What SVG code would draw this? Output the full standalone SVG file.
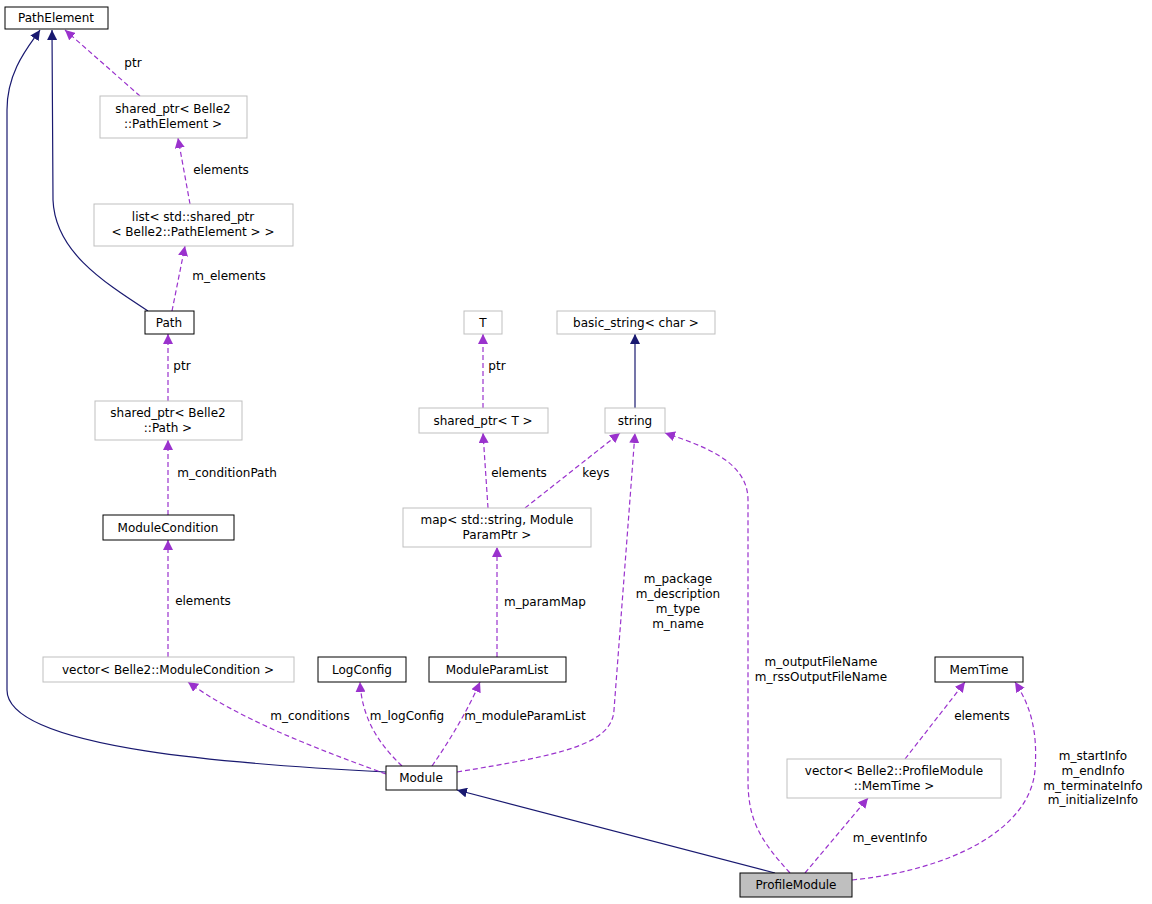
<svg xmlns="http://www.w3.org/2000/svg" width="1152" height="904" viewBox="0 0 1152 904">
<style>
text{font-family:"DejaVu Sans",sans-serif;font-size:12px;fill:#000}
.n{fill:#fff;stroke:#000;stroke-width:1}
.g{fill:#fff;stroke:#bfbfbf;stroke-width:1}
.s{fill:none;stroke:#191970;stroke-width:1.2;marker-end:url(#an)}
.d{fill:none;stroke:#9a32cd;stroke-width:1.2;stroke-dasharray:5,3;marker-end:url(#ap)}
.m{text-anchor:middle}
</style>
<defs>
<marker id="an" viewBox="0 0 10 10" refX="10" refY="5" markerWidth="10" markerHeight="10" markerUnits="userSpaceOnUse" orient="auto"><path d="M0,0L10,5L0,10z" fill="#191970"/></marker>
<marker id="ap" viewBox="0 0 10 10" refX="10" refY="5" markerWidth="10" markerHeight="10" markerUnits="userSpaceOnUse" orient="auto"><path d="M0,0L10,5L0,10z" fill="#9a32cd"/></marker>
</defs>
<rect width="1152" height="904" fill="#fff"/>
<g id="edges">
<path class="s" d="M386,772 C250,765 7,750 7,690 L7,110 C7,70 30,45 40,30"/>
<path class="s" d="M148,311 C100,280 55,250 53,200 L52,30"/>
<path class="s" d="M775,873 L457,790"/>
<path class="s" d="M635,408 L635,334"/>
<path class="d" d="M140,96 L65,30"/>
<path class="d" d="M190,204 L178,138"/>
<path class="d" d="M172,311 L185,246"/>
<path class="d" d="M168,401 L168,334"/>
<path class="d" d="M168,515 L168,440"/>
<path class="d" d="M168,657 L168,540"/>
<path class="d" d="M386,774 C320,750 240,720 188,682"/>
<path class="d" d="M402,766 C380,745 362,720 360,682"/>
<path class="d" d="M432,766 C450,740 468,710 480,682"/>
<path class="d" d="M497,657 L497,547"/>
<path class="d" d="M488,508 L483,433"/>
<path class="d" d="M525,508 L620,433"/>
<path class="d" d="M483,408 L483,334"/>
<path class="d" d="M457,772 C560,755 612,745 614,710 L635,433"/>
<path class="d" d="M790,873 C760,840 748,820 748,780 L748,500 C748,460 700,445 665,433"/>
<path class="d" d="M805,873 L868,798"/>
<path class="d" d="M905,759 L965,682"/>
<path class="d" d="M852,880 C950,870 1030,830 1035,770 C1038,730 1030,705 1015,682"/>
</g>
<g id="labels">
<text x="133" y="67" class="m">ptr</text>
<text x="221" y="174" class="m">elements</text>
<text x="229" y="280" class="m">m_elements</text>
<text x="182" y="370" class="m">ptr</text>
<text x="227" y="477" class="m">m_conditionPath</text>
<text x="203" y="605" class="m">elements</text>
<text x="310" y="720" class="m">m_conditions</text>
<text x="407" y="720" class="m">m_logConfig</text>
<text x="525" y="720" class="m">m_moduleParamList</text>
<text x="545" y="606" class="m">m_paramMap</text>
<text x="519" y="477" class="m">elements</text>
<text x="596" y="477" class="m">keys</text>
<text x="497" y="370" class="m">ptr</text>
<text x="678" y="583" class="m">m_package</text>
<text x="678" y="598" class="m">m_description</text>
<text x="678" y="613" class="m">m_type</text>
<text x="678" y="628" class="m">m_name</text>
<text x="821" y="666" class="m">m_outputFileName</text>
<text x="821" y="681" class="m">m_rssOutputFileName</text>
<text x="890" y="842" class="m">m_eventInfo</text>
<text x="982" y="720" class="m">elements</text>
<text x="1093" y="760" class="m">m_startInfo</text>
<text x="1093" y="775" class="m">m_endInfo</text>
<text x="1093" y="790" class="m">m_terminateInfo</text>
<text x="1093" y="804" class="m">m_initializeInfo</text>
</g>
<g id="PathElement"><rect class="n" x="5" y="7" width="103" height="22"/><text x="56" y="22" class="m">PathElement</text></g>
<g id="spPathElement"><rect class="g" x="100" y="96" width="147" height="42"/><text x="173" y="113" class="m">shared_ptr&lt; Belle2</text><text x="173" y="128" class="m">::PathElement &gt;</text></g>
<g id="list"><rect class="g" x="94" y="204" width="199" height="42"/><text x="193" y="221" class="m">list&lt; std::shared_ptr</text><text x="193" y="236" class="m">&lt; Belle2::PathElement &gt; &gt;</text></g>
<g id="Path"><rect class="n" x="145" y="311" width="49" height="23"/><text x="169" y="327" class="m">Path</text></g>
<g id="spPath"><rect class="g" x="95" y="401" width="147" height="39"/><text x="168" y="417" class="m">shared_ptr&lt; Belle2</text><text x="168" y="432" class="m">::Path &gt;</text></g>
<g id="ModuleCondition"><rect class="n" x="103" y="515" width="131" height="25"/><text x="168" y="532" class="m">ModuleCondition</text></g>
<g id="vecMC"><rect class="g" x="43" y="657" width="251" height="25"/><text x="168" y="674" class="m">vector&lt; Belle2::ModuleCondition &gt;</text></g>
<g id="LogConfig"><rect class="n" x="318" y="657" width="88" height="25"/><text x="362" y="674" class="m">LogConfig</text></g>
<g id="ModuleParamList"><rect class="n" x="429" y="657" width="137" height="25"/><text x="497" y="674" class="m">ModuleParamList</text></g>
<g id="Module"><rect class="n" x="386" y="766" width="71" height="24"/><text x="421" y="782" class="m">Module</text></g>
<g id="ProfileModule"><rect x="740" y="873" width="112" height="24" fill="#bfbfbf" stroke="#000"/><text x="796" y="889" class="m">ProfileModule</text></g>
<g id="T"><rect class="g" x="464" y="311" width="38" height="23"/><text x="483" y="327" class="m">T</text></g>
<g id="basic_string"><rect class="g" x="557" y="311" width="158" height="23"/><text x="636" y="327" class="m">basic_string&lt; char &gt;</text></g>
<g id="spT"><rect class="g" x="419" y="408" width="129" height="25"/><text x="483" y="425" class="m">shared_ptr&lt; T &gt;</text></g>
<g id="string"><rect class="g" x="605" y="408" width="60" height="25"/><text x="635" y="425" class="m">string</text></g>
<g id="map"><rect class="g" x="403" y="508" width="188" height="39"/><text x="497" y="524" class="m">map&lt; std::string, Module</text><text x="497" y="539" class="m">ParamPtr &gt;</text></g>
<g id="MemTime"><rect class="n" x="935" y="657" width="88" height="25"/><text x="979" y="674" class="m">MemTime</text></g>
<g id="vecMT"><rect class="g" x="787" y="759" width="214" height="39"/><text x="894" y="775" class="m">vector&lt; Belle2::ProfileModule</text><text x="894" y="790" class="m">::MemTime &gt;</text></g>
</svg>
